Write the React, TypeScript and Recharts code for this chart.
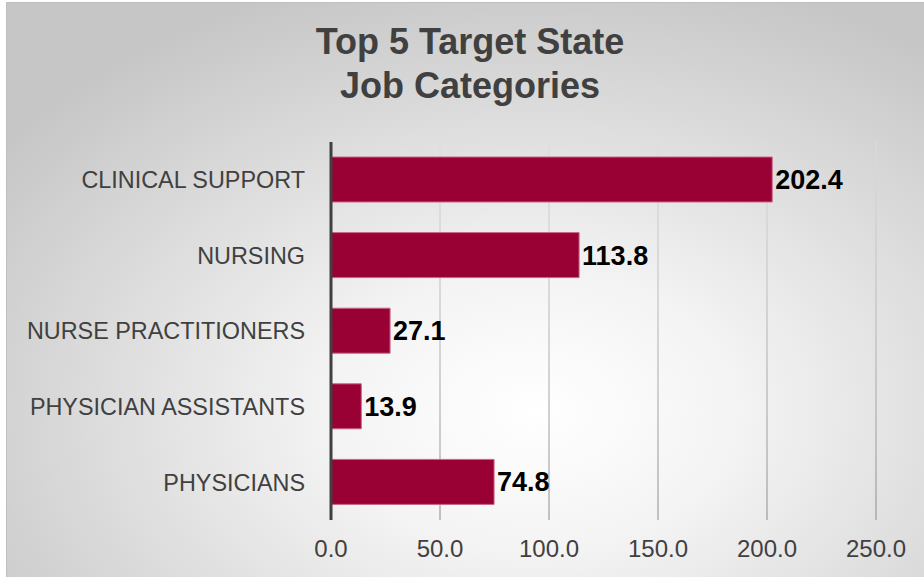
import React from "react"
import { BarChart, Bar, XAxis, YAxis, CartesianGrid, LabelList } from "recharts"

const categories = ["CLINICAL SUPPORT", "NURSING", "NURSE PRACTITIONERS", "PHYSICIAN ASSISTANTS", "PHYSICIANS"]
const values = [202.4, 113.8, 27.1, 13.9, 74.8]
const xTicks = [0, 50, 100, 150, 200, 250]
const titleLines = ["Top 5 Target State", "Job Categories"]

const data = categories.map((name, i) => ({ name, value: values[i] }))

const FONT = "'Liberation Sans', Arial, sans-serif"

export default function App() {
  return (
    <div
      style={{
        position: "fixed",
        left: 0,
        top: 0,
        width: 924,
        height: 577,
        overflow: "hidden",
        fontFamily: FONT,
        background: "#fff",
      }}
    >
      <div
        style={{
          position: "absolute",
          left: 6,
          top: 2,
          width: 940,
          height: 600,
          border: "1px solid #bfbfbf",
          background: "radial-gradient(ellipse 70% 75% at 56% 68%, #ffffff 0%, #f4f4f4 30%, #c6c6c6 100%)",
        }}
      />
      <div
        style={{
          position: "absolute",
          left: 0,
          top: 20,
          width: 940,
          textAlign: "center",
          fontSize: 36,
          fontWeight: "bold",
          lineHeight: "44px",
          color: "#404040",
        }}
      >
        {titleLines.map((t) => (
          <div key={t}>{t}</div>
        ))}
      </div>
      <div style={{ position: "absolute", left: 0, top: 0 }}>
        <BarChart
          width={924}
          height={577}
          data={data}
          layout="vertical"
          margin={{ top: 142, right: 48, bottom: 17, left: 0 }}
        >
          <defs>
            <linearGradient id="gridFade" gradientUnits="userSpaceOnUse" x1="0" y1="142" x2="0" y2="520">
              <stop offset="0%" stopColor="#dddddd" />
              <stop offset="100%" stopColor="#8c8c8c" />
            </linearGradient>
          </defs>
          <CartesianGrid horizontal={false} stroke="url(#gridFade)" strokeWidth={1} />
          <XAxis
            type="number"
            domain={[0, 250]}
            ticks={xTicks}
            tickFormatter={(v) => v.toFixed(1)}
            axisLine={false}
            tickLine={false}
            tickSize={0}
            tickMargin={20}
            height={40}
            tick={{ fill: "#404040", fontSize: 24, fontFamily: FONT }}
          />
          <YAxis
            type="category"
            dataKey="name"
            width={331}
            axisLine={{ stroke: "#404040", strokeWidth: 3 }}
            tickLine={false}
            tickSize={0}
            tickMargin={26}
            tick={{ fill: "#404040", fontSize: 23.4, fontFamily: FONT }}
          />
          <Bar dataKey="value" barSize={45} fill="#990033" stroke="#c8668a" strokeWidth={1} isAnimationActive={false}>
            <LabelList
              dataKey="value"
              position="right"
              offset={3}
              formatter={(v: number) => v.toFixed(1)}
              style={{ fill: "#000", fontSize: 27, fontWeight: "bold", fontFamily: FONT }}
            />
          </Bar>
        </BarChart>
      </div>
    </div>
  )
}
